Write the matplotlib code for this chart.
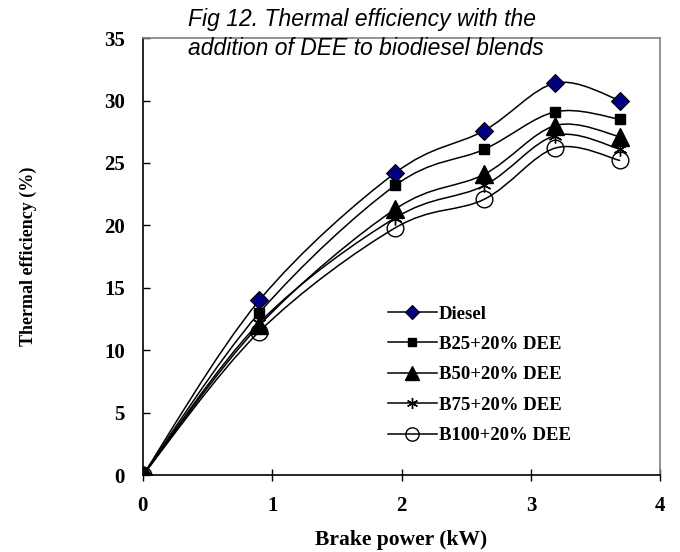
import numpy as np
import matplotlib
matplotlib.use("Agg")
import matplotlib.pyplot as plt
from matplotlib.path import Path
from matplotlib.patches import PathPatch
from matplotlib.lines import Line2D

# brake power (kW)
power = [0, 0.9, 1.95, 2.64, 3.19, 3.69]

diesel = [0, 14.0, 24.2, 27.6, 31.4, 30.0]
b25 = [0, 13.0, 23.2, 26.1, 29.1, 28.5]
b50 = [0, 12.0, 21.3, 24.1, 28.0, 27.1]
b75 = [0, 12.2, 20.6, 23.2, 27.2, 26.1]
b100 = [0, 11.5, 19.8, 22.1, 26.2, 25.2]

labels = ["Diesel", "B25+20% DEE", "B50+20% DEE", "B75+20% DEE", "B100+20% DEE"]
series = [diesel, b25, b50, b75, b100]

styles = [
    dict(marker="D", markersize=9.5, markerfacecolor="#000080", markeredgecolor="black", markeredgewidth=0.8),
    dict(marker="s", markersize=7, markerfacecolor="black", markeredgecolor="black"),
    dict(marker="^", markersize=13, markerfacecolor="black", markeredgecolor="black"),
    dict(marker=(6, 2, 0), markersize=10, markerfacecolor="none", markeredgecolor="black", markeredgewidth=1.0),
    dict(marker="o", markersize=12, markerfacecolor="none", markeredgecolor="black", markeredgewidth=1.0),
]


def smooth_path(x, y):
    # excel style smoothed line as bezier segments
    x = np.asarray(x, float)
    y = np.asarray(y, float)
    n = len(x)
    verts = [(x[0], y[0])]
    codes = [Path.MOVETO]
    for i in range(n - 1):
        p0 = np.array([x[max(i - 1, 0)], y[max(i - 1, 0)]])
        p1 = np.array([x[i], y[i]])
        p2 = np.array([x[i + 1], y[i + 1]])
        p3 = np.array([x[min(i + 2, n - 1)], y[min(i + 2, n - 1)]])
        c1 = p1 + (p2 - p0) / 6.0
        c2 = p2 - (p3 - p1) / 6.0
        verts += [tuple(c1), tuple(c2), tuple(p2)]
        codes += [Path.CURVE4] * 3
    return Path(verts, codes)


fig = plt.figure(figsize=(6.8, 5.52), dpi=100)
ax = fig.add_axes([0.210, 0.139, 0.761, 0.792])

handles = []
for vals, lab, st in zip(series, labels, styles):
    ax.add_patch(PathPatch(smooth_path(power, vals), facecolor="none", edgecolor="black", lw=1.1, zorder=2))
    ax.plot(power, vals, linestyle="none", zorder=3, **st)
    handles.append(Line2D([], [], color="black", lw=1.1, **st))

ax.set_xlim(0, 4)
ax.set_ylim(0, 35)
ax.set_xticks([0, 1, 2, 3, 4])
ax.set_yticks(range(0, 36, 5))

serif = "Liberation Serif"
for lab in ax.get_xticklabels() + ax.get_yticklabels():
    lab.set_fontfamily(serif)
    lab.set_fontweight("bold")
    lab.set_fontsize(15)

ax.tick_params(axis="x", direction="inout", length=8, width=1, pad=11)
ax.tick_params(axis="y", direction="in", length=5, width=1, pad=13)

ax.spines["left"].set_color("black")
ax.spines["bottom"].set_color("black")
ax.spines["top"].set_color("#808080")
ax.spines["right"].set_color("#808080")
for s in ax.spines.values():
    s.set_linewidth(1.2)

ax.set_xlabel("Brake power (kW)", fontfamily=serif, fontweight="bold", fontsize=15.5)
ax.set_ylabel("Thermal efficiency (%)", fontfamily=serif, fontweight="bold", fontsize=13)
ax.xaxis.set_label_coords(0.5, -0.125)
ax.yaxis.set_label_coords(-0.205, 0.5)

fig.text(0.277, 0.965, "Fig 12. Thermal efficiency with the", fontfamily="Liberation Sans",
         style="italic", fontsize=16.5, va="center", ha="left")
fig.text(0.277, 0.912, "addition of DEE to biodiesel blends", fontfamily="Liberation Sans",
         style="italic", fontsize=16.5, va="center", ha="left")

leg = ax.legend(handles, labels, loc="upper left", bbox_to_anchor=(0.441, 0.427), frameon=False,
                handlelength=2.6, handletextpad=0.12, labelspacing=0.71, markerscale=0.8,
                prop=dict(family=serif, weight="bold", size=13.5))

fig.savefig("out.png", dpi=100)
